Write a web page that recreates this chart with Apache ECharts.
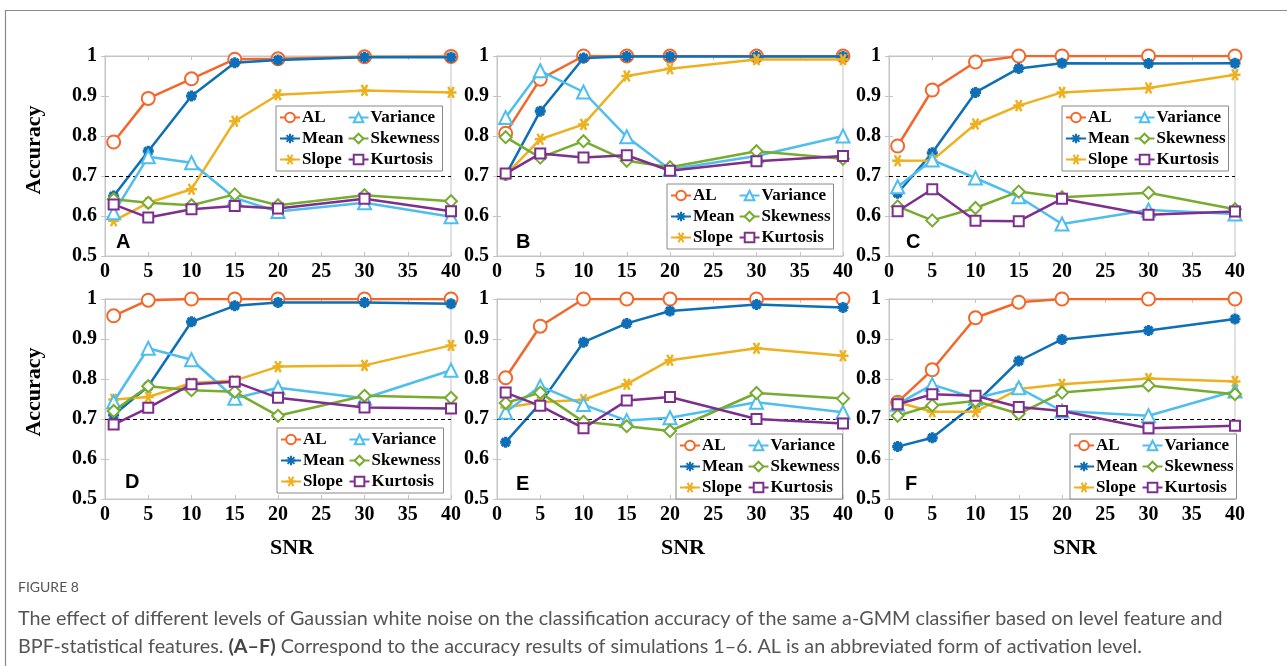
<!DOCTYPE html>
<html><head><meta charset="utf-8">
<script src="https://cdn.jsdelivr.net/npm/echarts@6/dist/echarts.min.js"></script>
<style>html,body{margin:0;padding:0;background:#fff}#c{width:1287px;height:666px}</style>
</head><body><div id="c"></div>
<script>
const snr = [1, 5, 10, 15, 20, 30, 40];
const seriesNames = ['AL', 'Mean', 'Slope', 'Variance', 'Skewness', 'Kurtosis'];
const panelLetters = ['A', 'B', 'C', 'D', 'E', 'F'];
const xTicks = [0, 5, 10, 15, 20, 25, 30, 35, 40];
const yTicks = [0.5, 0.6, 0.7, 0.8, 0.9, 1];

const A_AL       = [0.785, 0.894, 0.943, 0.992, 0.993, 0.998, 0.999];
const A_Mean     = [0.650, 0.762, 0.900, 0.983, 0.990, 0.997, 0.997];
const A_Slope    = [0.588, 0.633, 0.667, 0.837, 0.903, 0.914, 0.909];
const A_Variance = [0.608, 0.748, 0.733, 0.645, 0.611, 0.633, 0.598];
const A_Skewness = [0.642, 0.633, 0.627, 0.654, 0.627, 0.652, 0.637];
const A_Kurtosis = [0.629, 0.596, 0.617, 0.625, 0.619, 0.643, 0.612];

const B_AL       = [0.807, 0.942, 1.000, 1.000, 1.000, 1.000, 1.000];
const B_Mean     = [0.702, 0.862, 0.995, 0.999, 0.999, 0.999, 0.999];
const B_Slope    = [0.703, 0.792, 0.829, 0.950, 0.968, 0.991, 0.991];
const B_Variance = [0.846, 0.963, 0.910, 0.798, 0.716, 0.750, 0.800];
const B_Skewness = [0.797, 0.746, 0.787, 0.738, 0.722, 0.762, 0.743];
const B_Kurtosis = [0.706, 0.756, 0.746, 0.752, 0.713, 0.737, 0.750];

const C_AL       = [0.775, 0.915, 0.985, 1.000, 1.000, 1.000, 1.000];
const C_Mean     = [0.657, 0.758, 0.909, 0.969, 0.982, 0.981, 0.982];
const C_Slope    = [0.738, 0.739, 0.830, 0.876, 0.909, 0.920, 0.953];
const C_Variance = [0.673, 0.740, 0.695, 0.648, 0.580, 0.615, 0.605];
const C_Skewness = [0.624, 0.589, 0.620, 0.661, 0.647, 0.658, 0.617];
const C_Kurtosis = [0.612, 0.667, 0.588, 0.587, 0.643, 0.603, 0.611];

const D_AL       = [0.958, 0.997, 1.000, 1.000, 1.000, 1.000, 1.000];
const D_Mean     = [0.710, 0.782, 0.943, 0.983, 0.991, 0.991, 0.988];
const D_Slope    = [0.749, 0.755, 0.790, 0.796, 0.831, 0.834, 0.884];
const D_Variance = [0.743, 0.877, 0.848, 0.752, 0.778, 0.752, 0.822];
const D_Skewness = [0.720, 0.782, 0.772, 0.768, 0.708, 0.758, 0.753];
const D_Kurtosis = [0.686, 0.728, 0.787, 0.793, 0.753, 0.729, 0.726];

const E_AL       = [0.803, 0.932, 1.000, 1.000, 1.000, 1.000, 1.000];
const E_Mean     = [0.642, 0.739, 0.892, 0.939, 0.970, 0.986, 0.979];
const E_Slope    = [0.729, 0.742, 0.748, 0.787, 0.847, 0.877, 0.858];
const E_Variance = [0.717, 0.782, 0.736, 0.696, 0.703, 0.742, 0.717];
const E_Skewness = [0.740, 0.766, 0.693, 0.682, 0.670, 0.765, 0.751];
const E_Kurtosis = [0.766, 0.733, 0.677, 0.746, 0.755, 0.700, 0.689];

const F_AL       = [0.742, 0.823, 0.953, 0.992, 1.000, 1.000, 1.000];
const F_Mean     = [0.631, 0.653, 0.739, 0.845, 0.899, 0.921, 0.950];
const F_Slope    = [0.742, 0.718, 0.718, 0.775, 0.787, 0.801, 0.794];
const F_Variance = [0.737, 0.786, 0.752, 0.778, 0.720, 0.708, 0.770];
const F_Skewness = [0.708, 0.734, 0.745, 0.713, 0.766, 0.784, 0.762];
const F_Kurtosis = [0.737, 0.762, 0.758, 0.730, 0.720, 0.677, 0.683];

const threshold = 0.7;

const panelData = [
  [A_AL, A_Mean, A_Slope, A_Variance, A_Skewness, A_Kurtosis],
  [B_AL, B_Mean, B_Slope, B_Variance, B_Skewness, B_Kurtosis],
  [C_AL, C_Mean, C_Slope, C_Variance, C_Skewness, C_Kurtosis],
  [D_AL, D_Mean, D_Slope, D_Variance, D_Skewness, D_Kurtosis],
  [E_AL, E_Mean, E_Slope, E_Variance, E_Skewness, E_Kurtosis],
  [F_AL, F_Mean, F_Slope, F_Variance, F_Skewness, F_Kurtosis]
];

// ---- styling / layout ----
const colors = ['#F4672B', '#0F6FB6', '#EDB120', '#4DBEEE', '#77AC30', '#7E2F8E'];
function starPath(n) {
  let p = '';
  for (let k = 0; k < n; k++) {
    const a = Math.PI * k / n;
    const x1 = 10 + 10 * Math.cos(a), y1 = 10 + 10 * Math.sin(a);
    const x2 = 10 - 10 * Math.cos(a), y2 = 10 - 10 * Math.sin(a);
    p += 'M' + x1.toFixed(2) + ',' + y1.toFixed(2) + 'L' + x2.toFixed(2) + ',' + y2.toFixed(2);
  }
  return 'path://' + p;
}
const symbols = ['emptyCircle', starPath(4), starPath(3), 'emptyTriangle', 'emptyDiamond', 'emptyRect'];
const symbolSizes = [13, 11, 11, 13, 12, 10];

const gridLefts = [105, 497, 889];
const gridTops = [56, 299];
const gridW = 346, gridH = 200;
const legendPos = [[276, 106], [667, 184], [1062, 106], [277, 428], [676, 434], [1070, 434]];
const letterPos = [[116, 232], [516, 232], [906, 232], [125, 472], [516, 474], [905, 474]];

const serif = 'Liberation Serif';
const grids = [], xAxes = [], yAxes = [], series = [], legends = [], graphics = [];

for (let p = 0; p < 6; p++) {
  const col = p % 3, row = Math.floor(p / 3);
  grids.push({left: gridLefts[col], top: gridTops[row], width: gridW, height: gridH,
    show: true, borderColor: '#c4c4c4', borderWidth: 1, backgroundColor: '#fff'});
  const xBase = {gridIndex: p, type: 'value', min: 0, max: 40, interval: 5,
    axisLine: {show: true, lineStyle: {color: '#c4c4c4'}},
    axisTick: {show: true, inside: true, length: 4, lineStyle: {color: '#c4c4c4'}},
    splitLine: {show: false}};
  const yBase = {gridIndex: p, type: 'value', min: 0.5, max: 1, interval: 0.1,
    axisLine: {show: true, lineStyle: {color: '#c4c4c4'}},
    axisTick: {show: true, inside: true, length: 4, lineStyle: {color: '#c4c4c4'}},
    splitLine: {show: false}};
  xAxes.push(Object.assign({}, xBase, {position: 'bottom',
    axisLabel: {show: true, margin: 6, color: '#000', fontFamily: serif, fontWeight: 'bold', fontSize: 20}}));
  xAxes.push(Object.assign({}, xBase, {position: 'top', axisLabel: {show: false}}));
  yAxes.push(Object.assign({}, yBase, {position: 'left',
    axisLabel: {show: true, margin: 8, color: '#000', fontFamily: serif, fontWeight: 'bold', fontSize: 20,
      formatter: v => (Math.abs(v - 1) < 1e-9 ? '1' : v.toFixed(1))}}));
  yAxes.push(Object.assign({}, yBase, {position: 'right', axisLabel: {show: false}}));

  const vals = panelData[p];
  for (let s = 0; s < 6; s++) {
    const ser = {
      type: 'line', name: seriesNames[s], xAxisIndex: 2 * p, yAxisIndex: 2 * p,
      data: snr.map((x, i) => [x, vals[s][i]]),
      symbol: symbols[s], symbolSize: symbolSizes[s], showAllSymbol: true,
      color: colors[s],
      lineStyle: {color: colors[s], width: 2.5, type: 'solid'},
      itemStyle: {color: colors[s], borderColor: colors[s], borderWidth: s === 1 ? 3.2 : 2.5},
      emphasis: {disabled: true}, animation: false, z: 3 + s
    };
    if (s === 0) {
      ser.markLine = {silent: true, symbol: 'none', label: {show: false}, animation: false,
        lineStyle: {color: '#000', type: [4, 3], width: 1},
        data: [{yAxis: threshold}]};
    }
    series.push(ser);
  }
  legends.push({
    orient: 'vertical', left: legendPos[p][0], top: legendPos[p][1], height: 62,
    data: seriesNames, itemWidth: 20, itemHeight: 12, itemGap: 4,
    padding: [3, 3, 3, 3], borderColor: '#888', borderWidth: 1, backgroundColor: '#fff',
    selectedMode: false,
    textStyle: {fontFamily: serif, fontWeight: 'bold', fontSize: 17, color: '#000', padding: [0, 0, 0, -3]}
  });
  graphics.push({type: 'text', left: letterPos[p][0], top: letterPos[p][1], z: 50,
    style: {text: panelLetters[p], fontFamily: 'Liberation Sans', fontWeight: 'bold', fontSize: 20, fill: '#000'}});
}

// axis titles
const snrX = [292, 683, 1075];
snrX.forEach(x => graphics.push({type: 'text', x: x, y: 548, z: 50,
  style: {text: 'SNR', fontFamily: serif, fontWeight: 'bold', fontSize: 22, fill: '#000', align: 'center', verticalAlign: 'middle'}}));
[150, 392].forEach(y => graphics.push({type: 'text', x: 34, y: y, rotation: Math.PI / 2, z: 50,
  style: {text: 'Accuracy', fontFamily: serif, fontWeight: 'bold', fontSize: 22, fill: '#000', align: 'center', verticalAlign: 'middle'}}));

// frame lines
graphics.push({type: 'line', shape: {x1: 5, y1: 10.5, x2: 1287, y2: 10.5}, style: {stroke: '#8a8a8a', lineWidth: 1.2}});
graphics.push({type: 'line', shape: {x1: 5.5, y1: 10, x2: 5.5, y2: 666}, style: {stroke: '#8a8a8a', lineWidth: 1.2}});

// caption
const capFont = 'Lato';
graphics.push({type: 'text', x: 18, y: 587, style: {text: 'FIGURE 8', fontFamily: capFont, fontSize: 14, fill: '#555', verticalAlign: 'middle'}});
graphics.push({type: 'text', x: 18, y: 619, scaleX: 1.04, style: {text: 'The effect of different levels of Gaussian white noise on the classification accuracy of the same a-GMM classifier based on level feature and', fontFamily: capFont, fontSize: 19, fill: '#555', verticalAlign: 'middle'}});
graphics.push({type: 'text', x: 18, y: 647, scaleX: 1.04, style: {text: 'BPF-statistical features. {b|(A\u2013F)} Correspond to the accuracy results of simulations 1\u20136. AL is an abbreviated form of activation level.', fontFamily: capFont, fontSize: 19, fill: '#555', verticalAlign: 'middle',
  rich: {b: {fontFamily: capFont, fontSize: 19, fontWeight: 'bold', fill: '#444'}}}});

const chart = echarts.init(document.getElementById('c'), null, {renderer: 'canvas'});
chart.setOption({
  animation: false,
  backgroundColor: '#fff',
  grid: grids, xAxis: xAxes, yAxis: yAxes, series: series, legend: legends,
  graphic: graphics
});
</script></body></html>
